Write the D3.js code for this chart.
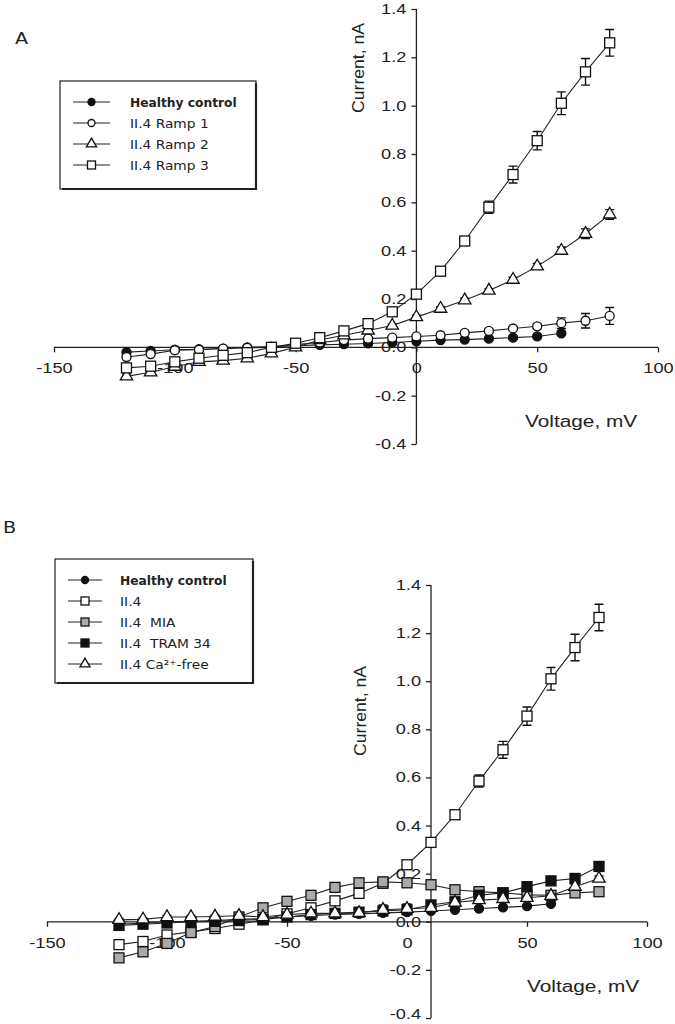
<!DOCTYPE html>
<html><head><meta charset="utf-8">
<script src="https://cdn.jsdelivr.net/npm/d3@7"></script>
<style>
body{margin:0;background:#fff}
svg text{font-family:"Liberation Sans",Arial,sans-serif;fill:#222}
</style>
</head><body>
<svg id="c" width="675" height="1024"></svg>
<script>
// ---------- data ----------
const voltage = [-120,-110,-100,-90,-80,-70,-60,-50,-40,-30,-20,-10,0,10,20,30,40,50,60,70,80];
const xTicks = [-150,-100,-50,0,50,100];
const yTicks = [-0.4,-0.2,0,0.2,0.4,0.6,0.8,1.0,1.2,1.4];

// Panel A
const aHealthy = [-0.02,-0.015,-0.01,-0.008,-0.005,0,0.003,0.007,0.01,0.013,0.016,0.02,0.025,0.03,0.032,0.036,0.04,0.045,0.058];
const aHealthyErr = [0.005,0.005,0.005,0.005,0.005,0.005,0.005,0.005,0.005,0.005,0.005,0.005,0.005,0.005,0.005,0.005,0.006,0.006,0.008];
const aRamp1 = [-0.04,-0.028,-0.012,-0.01,-0.005,-0.002,0,0.012,0.02,0.03,0.036,0.04,0.045,0.05,0.06,0.068,0.078,0.087,0.1,0.11,0.13];
const aRamp1Err = [0.008,0.006,0.006,0.006,0.006,0.006,0.006,0.006,0.006,0.006,0.006,0.006,0.006,0.006,0.006,0.008,0.008,0.01,0.022,0.03,0.035];
const aRamp2 = [-0.12,-0.103,-0.08,-0.06,-0.055,-0.045,-0.025,0,0.03,0.05,0.07,0.09,0.125,0.16,0.195,0.235,0.28,0.335,0.4,0.47,0.55];
const aRamp2Err = [0.01,0.01,0.008,0.008,0.008,0.008,0.006,0.006,0.006,0.006,0.006,0.006,0.008,0.008,0.008,0.008,0.01,0.012,0.015,0.02,0.02];
const aRamp3 = [-0.085,-0.078,-0.06,-0.045,-0.033,-0.022,0,0.017,0.04,0.068,0.098,0.147,0.22,0.315,0.44,0.58,0.715,0.855,1.01,1.14,1.26];
const aRamp3Err = [0.01,0.01,0.008,0.008,0.008,0.006,0.006,0.006,0.006,0.006,0.008,0.008,0.01,0.01,0.012,0.025,0.035,0.038,0.047,0.055,0.055];

// Panel B
const bHealthy = [-0.01,-0.005,0,0.002,0.005,0.01,0.013,0.02,0.025,0.03,0.033,0.037,0.04,0.045,0.05,0.055,0.06,0.065,0.075];
const bHealthyErr = bHealthy.map(() => 0.005);
const bII4 = [-0.095,-0.082,-0.055,-0.042,-0.028,-0.01,0.008,0.033,0.058,0.087,0.118,0.16,0.237,0.33,0.445,0.585,0.715,0.855,1.01,1.14,1.265];
const bII4Err = [0.01,0.01,0.008,0.008,0.008,0.006,0.006,0.006,0.006,0.006,0.008,0.008,0.01,0.01,0.012,0.025,0.035,0.038,0.047,0.055,0.055];
const bMIA = [-0.15,-0.125,-0.09,-0.045,-0.02,0.02,0.058,0.085,0.11,0.143,0.162,0.166,0.162,0.154,0.133,0.125,0.12,0.112,0.11,0.12,0.125];
const bMIAErr = bMIA.map(() => 0.008);
const bTRAM = [-0.015,-0.01,-0.005,0,0.002,0.005,0.01,0.02,0.03,0.035,0.04,0.045,0.05,0.07,0.083,0.11,0.12,0.146,0.17,0.18,0.23];
const bTRAMErr = bTRAM.map(() => 0.008);
const bCaFree = [0.008,0.01,0.02,0.02,0.022,0.025,0.02,0.03,0.035,0.035,0.037,0.05,0.054,0.058,0.08,0.09,0.095,0.1,0.108,0.146,0.18];
const bCaFreeErr = [0.006,0.006,0.006,0.006,0.006,0.006,0.006,0.006,0.006,0.006,0.006,0.02,0.02,0.01,0.008,0.008,0.008,0.008,0.008,0.01,0.01];

const legendA = ["Healthy control","II.4 Ramp 1","II.4 Ramp 2","II.4 Ramp 3"];
const legendB = ["Healthy control","II.4","II.4  MIA","II.4  TRAM 34","II.4 Ca\u00B2\u207A-free"];

// ---------- drawing ----------
const svg = d3.select("#c");

function stretch(sel, f){
  sel.each(function(){
    const l = this.getComputedTextLength();
    this.setAttribute("textLength", l * f);
    this.setAttribute("lengthAdjust", "spacingAndGlyphs");
  });
}

function marker(g, type, fill, size){
  const s = size;
  if (type === "circle") {
    g.append("circle").attr("r", s/2).attr("fill", fill).attr("stroke", "#111").attr("stroke-width", 1.3);
  } else if (type === "square") {
    g.append("rect").attr("x", -s/2).attr("y", -s/2).attr("width", s).attr("height", s)
      .attr("fill", fill).attr("stroke", "#111").attr("stroke-width", 1.3);
  } else if (type === "triangle") {
    g.append("path").attr("d", d3.symbol(d3.symbolTriangle, s*s*0.55)())
      .attr("fill", fill).attr("stroke", "#111").attr("stroke-width", 1.3);
  }
}

function panel(cfg){
  const x = d3.scaleLinear().domain([-150,100]).range(cfg.xr);
  const y = d3.scaleLinear().domain([-0.4,1.4]).range(cfg.yr);
  const g = svg.append("g");
  const x0 = x(cfg.yCross), y0 = y(0);

  // x axis
  const xa = g.append("g").attr("transform", `translate(0,${y0})`)
    .call(d3.axisBottom(x).tickValues(xTicks).tickSize(5).tickPadding(11).tickFormat(d => (d<0?"-":"") + Math.abs(d)));
  xa.select(".domain").attr("d", `M${x(-150)},0H${x(100)}`).attr("stroke","#222").attr("stroke-width",1.3);
  xa.selectAll(".tick line").attr("stroke","#222").attr("stroke-width",1.3);
  xa.selectAll("text").style("font-size","14px").attr("fill","#222");
  stretch(xa.selectAll("text"), 1.3);

  // y axis
  const ya = g.append("g").attr("transform", `translate(${x0},0)`)
    .call(d3.axisLeft(y).tickValues(yTicks).tickSize(5).tickPadding(5).tickFormat(d => (d<0?"-":"") + Math.abs(d).toFixed(1)));
  ya.select(".domain").attr("d", `M0,${y(-0.4)}V${y(1.4)}`).attr("stroke","#222").attr("stroke-width",1.3);
  ya.selectAll(".tick line").attr("stroke","#222").attr("stroke-width",1.3);
  ya.selectAll("text").style("font-size","14px").attr("fill","#222");
  if (cfg.liftBottom) ya.selectAll("text").filter(d => d === -0.4).attr("dy","0.05em");
  stretch(ya.selectAll("text"), 1.3);

  // titles
  const yt = g.append("text").attr("transform", `translate(${cfg.ylab[0]},${cfg.ylab[1]}) rotate(-90)`)
    .attr("text-anchor","middle").style("font-size","16px").text("Current, nA");
  stretch(yt, 1.1);
  const xt = g.append("text").attr("x", cfg.xlab[0]).attr("y", cfg.xlab[1])
    .style("font-size","16px").text("Voltage, mV");
  stretch(xt, 1.3);

  // panel letter
  const lt = g.append("text").attr("x", cfg.letter[0]).attr("y", cfg.letter[1]).style("font-size","16px")
    .style("font-family","DejaVu Sans, sans-serif").text(cfg.letterText);
  stretch(lt, 1.2);

  // series
  const line = d3.line().x(d => x(d[0])).y(d => y(d[1]));
  cfg.series.forEach(s => {
    const pts = s.values.map((v,i) => [voltage[i], v, s.err[i]]);
    const sg = g.append("g");
    sg.append("path").attr("d", line(pts)).attr("fill","none").attr("stroke","#222").attr("stroke-width",1.1);
    pts.forEach(p => {
      const cx = x(p[0]), t = y(p[1] + p[2]), b = y(p[1] - p[2]);
      sg.append("path").attr("d", `M${cx},${t}V${b}M${cx-4.5},${t}H${cx+4.5}M${cx-4.5},${b}H${cx+4.5}`)
        .attr("stroke","#111").attr("stroke-width",1.4).attr("fill","none");
    });
    pts.forEach(p => {
      const mg = sg.append("g").attr("transform", `translate(${x(p[0])},${y(p[1])})`);
      marker(mg, s.type, s.fill, s.size);
    });
  });

  // legend
  const L = cfg.legend;
  const lg = g.append("g");
  lg.append("rect").attr("x", L.box[0]).attr("y", L.box[1]).attr("width", L.box[2]).attr("height", L.box[3])
    .attr("fill","#fff").attr("stroke","#222").attr("stroke-width",1.2);
  lg.append("path").attr("d", `M${L.box[0]+L.box[2]},${L.box[1]+2}V${L.box[1]+L.box[3]}H${L.box[0]+2}`)
    .attr("fill","none").attr("stroke","#222").attr("stroke-width",2.2);
  cfg.series.forEach((s,i) => {
    const yy = L.y0 + i * L.dy;
    lg.append("line").attr("x1", L.lx[0]).attr("x2", L.lx[1]).attr("y1", yy).attr("y2", yy)
      .attr("stroke","#222").attr("stroke-width",1.2);
    const mg = lg.append("g").attr("transform", `translate(${(L.lx[0]+L.lx[1])/2},${yy})`);
    marker(mg, s.type, s.fill, s.size - 2);
    const t = lg.append("text").attr("x", L.tx).attr("y", yy + 4.5)
      .style("white-space","pre")
      .style("font-family","DejaVu Sans, sans-serif").style("font-size", i === 0 ? "12px" : "13px")
      .style("font-weight", i === 0 ? "bold" : "normal").attr("fill","#222").text(cfg.names[i]);
    stretch(t, i === 0 ? 1.02 : 1.06);
  });
}

panel({
  xr: [54,658], yr: [444,9], yCross: 0,
  ylab: [364,68], xlab: [525,427], letter: [15,44], letterText: "A",
  names: legendA,
  legend: {box:[60,81,196,108], y0:102, dy:21, lx:[73,110], tx:130},
  series: [
    {values: aHealthy, err: aHealthyErr, type:"circle", fill:"#111", size:9},
    {values: aRamp1, err: aRamp1Err, type:"circle", fill:"#fff", size:9},
    {values: aRamp2, err: aRamp2Err, type:"triangle", fill:"#fff", size:11},
    {values: aRamp3, err: aRamp3Err, type:"square", fill:"#fff", size:10}
  ]
});

panel({
  xr: [47,647], yr: [1018,585], yCross: 10, liftBottom: true,
  ylab: [366,711], xlab: [527,992], letter: [3,533], letterText: "B",
  names: legendB,
  legend: {box:[55,559,198,124], y0:580, dy:21, lx:[68,102], tx:120},
  series: [
    {values: bHealthy, err: bHealthyErr, type:"circle", fill:"#111", size:9},
    {values: bII4, err: bII4Err, type:"square", fill:"#fff", size:10},
    {values: bMIA, err: bMIAErr, type:"square", fill:"#aaa", size:10},
    {values: bTRAM, err: bTRAMErr, type:"square", fill:"#111", size:10},
    {values: bCaFree, err: bCaFreeErr, type:"triangle", fill:"#fff", size:11}
  ]
});
</script>
</body></html>
